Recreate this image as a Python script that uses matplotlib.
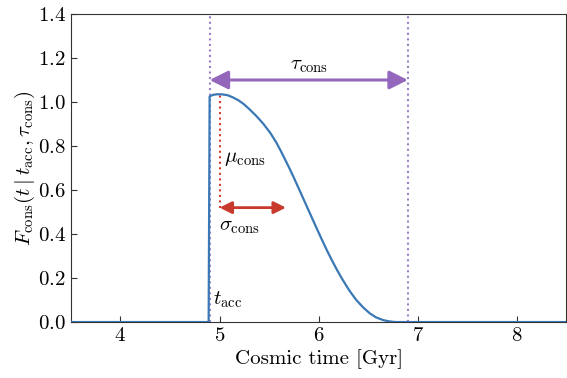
import matplotlib
matplotlib.use("Agg")
import matplotlib.pyplot as plt

plt.rcParams["font.family"] = "serif"
plt.rcParams["font.serif"] = ["cmr10"]
plt.rcParams["mathtext.fontset"] = "cm"
plt.rcParams["axes.formatter.use_mathtext"] = True

# curve
t_vals = [3.5, 4.89, 4.90, 4.93, 4.97, 5.02, 5.08, 5.13, 5.19, 5.24, 5.30, 5.37,
          5.44, 5.51, 5.57, 5.62, 5.67, 5.72, 5.76, 5.80, 5.84, 5.88, 5.93, 5.98,
          6.03, 6.08, 6.13, 6.18, 6.245, 6.31, 6.38, 6.45, 6.515, 6.58, 6.65,
          6.70, 6.75, 6.78, 8.5]
f_vals = [0.0, 0.0, 1.025, 1.032, 1.035, 1.035, 1.031, 1.022, 1.008, 0.992, 0.968, 0.937,
          0.902, 0.861, 0.818, 0.776, 0.731, 0.685, 0.646, 0.606, 0.566, 0.526, 0.476, 0.426,
          0.377, 0.329, 0.284, 0.241, 0.19, 0.143, 0.10, 0.066, 0.04, 0.021, 0.009,
          0.004, 0.001, 0.0, 0.0]

t_acc = 4.9
tau_end = 6.9
mu_cons = 5.0
peak = 1.035
sigma_end = 5.67
tau_y = 1.1
sigma_y = 0.52

fig = plt.figure(figsize=(5.67, 3.78), dpi=100)
ax = fig.add_axes([0.125, 0.148, 0.874, 0.815])

ax.plot(t_vals, f_vals, color="#3a78b5", lw=1.6, zorder=3)

ax.axvline(t_acc, color="#9b7fc8", ls=":", lw=1.5)
ax.axvline(tau_end, color="#9b7fc8", ls=":", lw=1.5)
ax.plot([mu_cons, mu_cons], [sigma_y, peak], color="#d43a2f", ls=":", lw=1.5)

ax.annotate("", xy=(t_acc, tau_y), xytext=(tau_end, tau_y),
            arrowprops=dict(arrowstyle="<|-|>", color="#9467bd", lw=2.2,
                            mutation_scale=28, shrinkA=0, shrinkB=0))
ax.annotate("", xy=(mu_cons, sigma_y), xytext=(sigma_end, sigma_y),
            arrowprops=dict(arrowstyle="<|-|>", color="#c83a2e", lw=2,
                            mutation_scale=18, shrinkA=0, shrinkB=0))

ax.text(5.9, 1.165, r"$\tau_{\rm cons}$", fontsize=15, ha="center", va="center")
ax.text(5.04, 0.74, r"$\mu_{\rm cons}$", fontsize=15, ha="left", va="center")
ax.text(4.99, 0.43, r"$\sigma_{\rm cons}$", fontsize=15, ha="left", va="center")
ax.text(4.93, 0.10, r"$t_{\rm acc}$", fontsize=15, ha="left", va="center")

ax.set_xlim(3.5, 8.5)
ax.set_ylim(0, 1.4)
ax.set_xticks([4, 5, 6, 7, 8])
ax.set_yticks([0.0, 0.2, 0.4, 0.6, 0.8, 1.0, 1.2, 1.4])
ax.tick_params(direction="in", labelsize=15, length=4, color="#333333")
for s in ax.spines.values():
    s.set_color("#333333")

ax.set_xlabel("Cosmic time [Gyr]", fontsize=15, labelpad=3)
ax.set_ylabel(r"$F_{\rm cons}(t\mid t_{\rm acc}, \tau_{\rm cons})$", fontsize=15, labelpad=1)

fig.savefig("out.png", dpi=100)
